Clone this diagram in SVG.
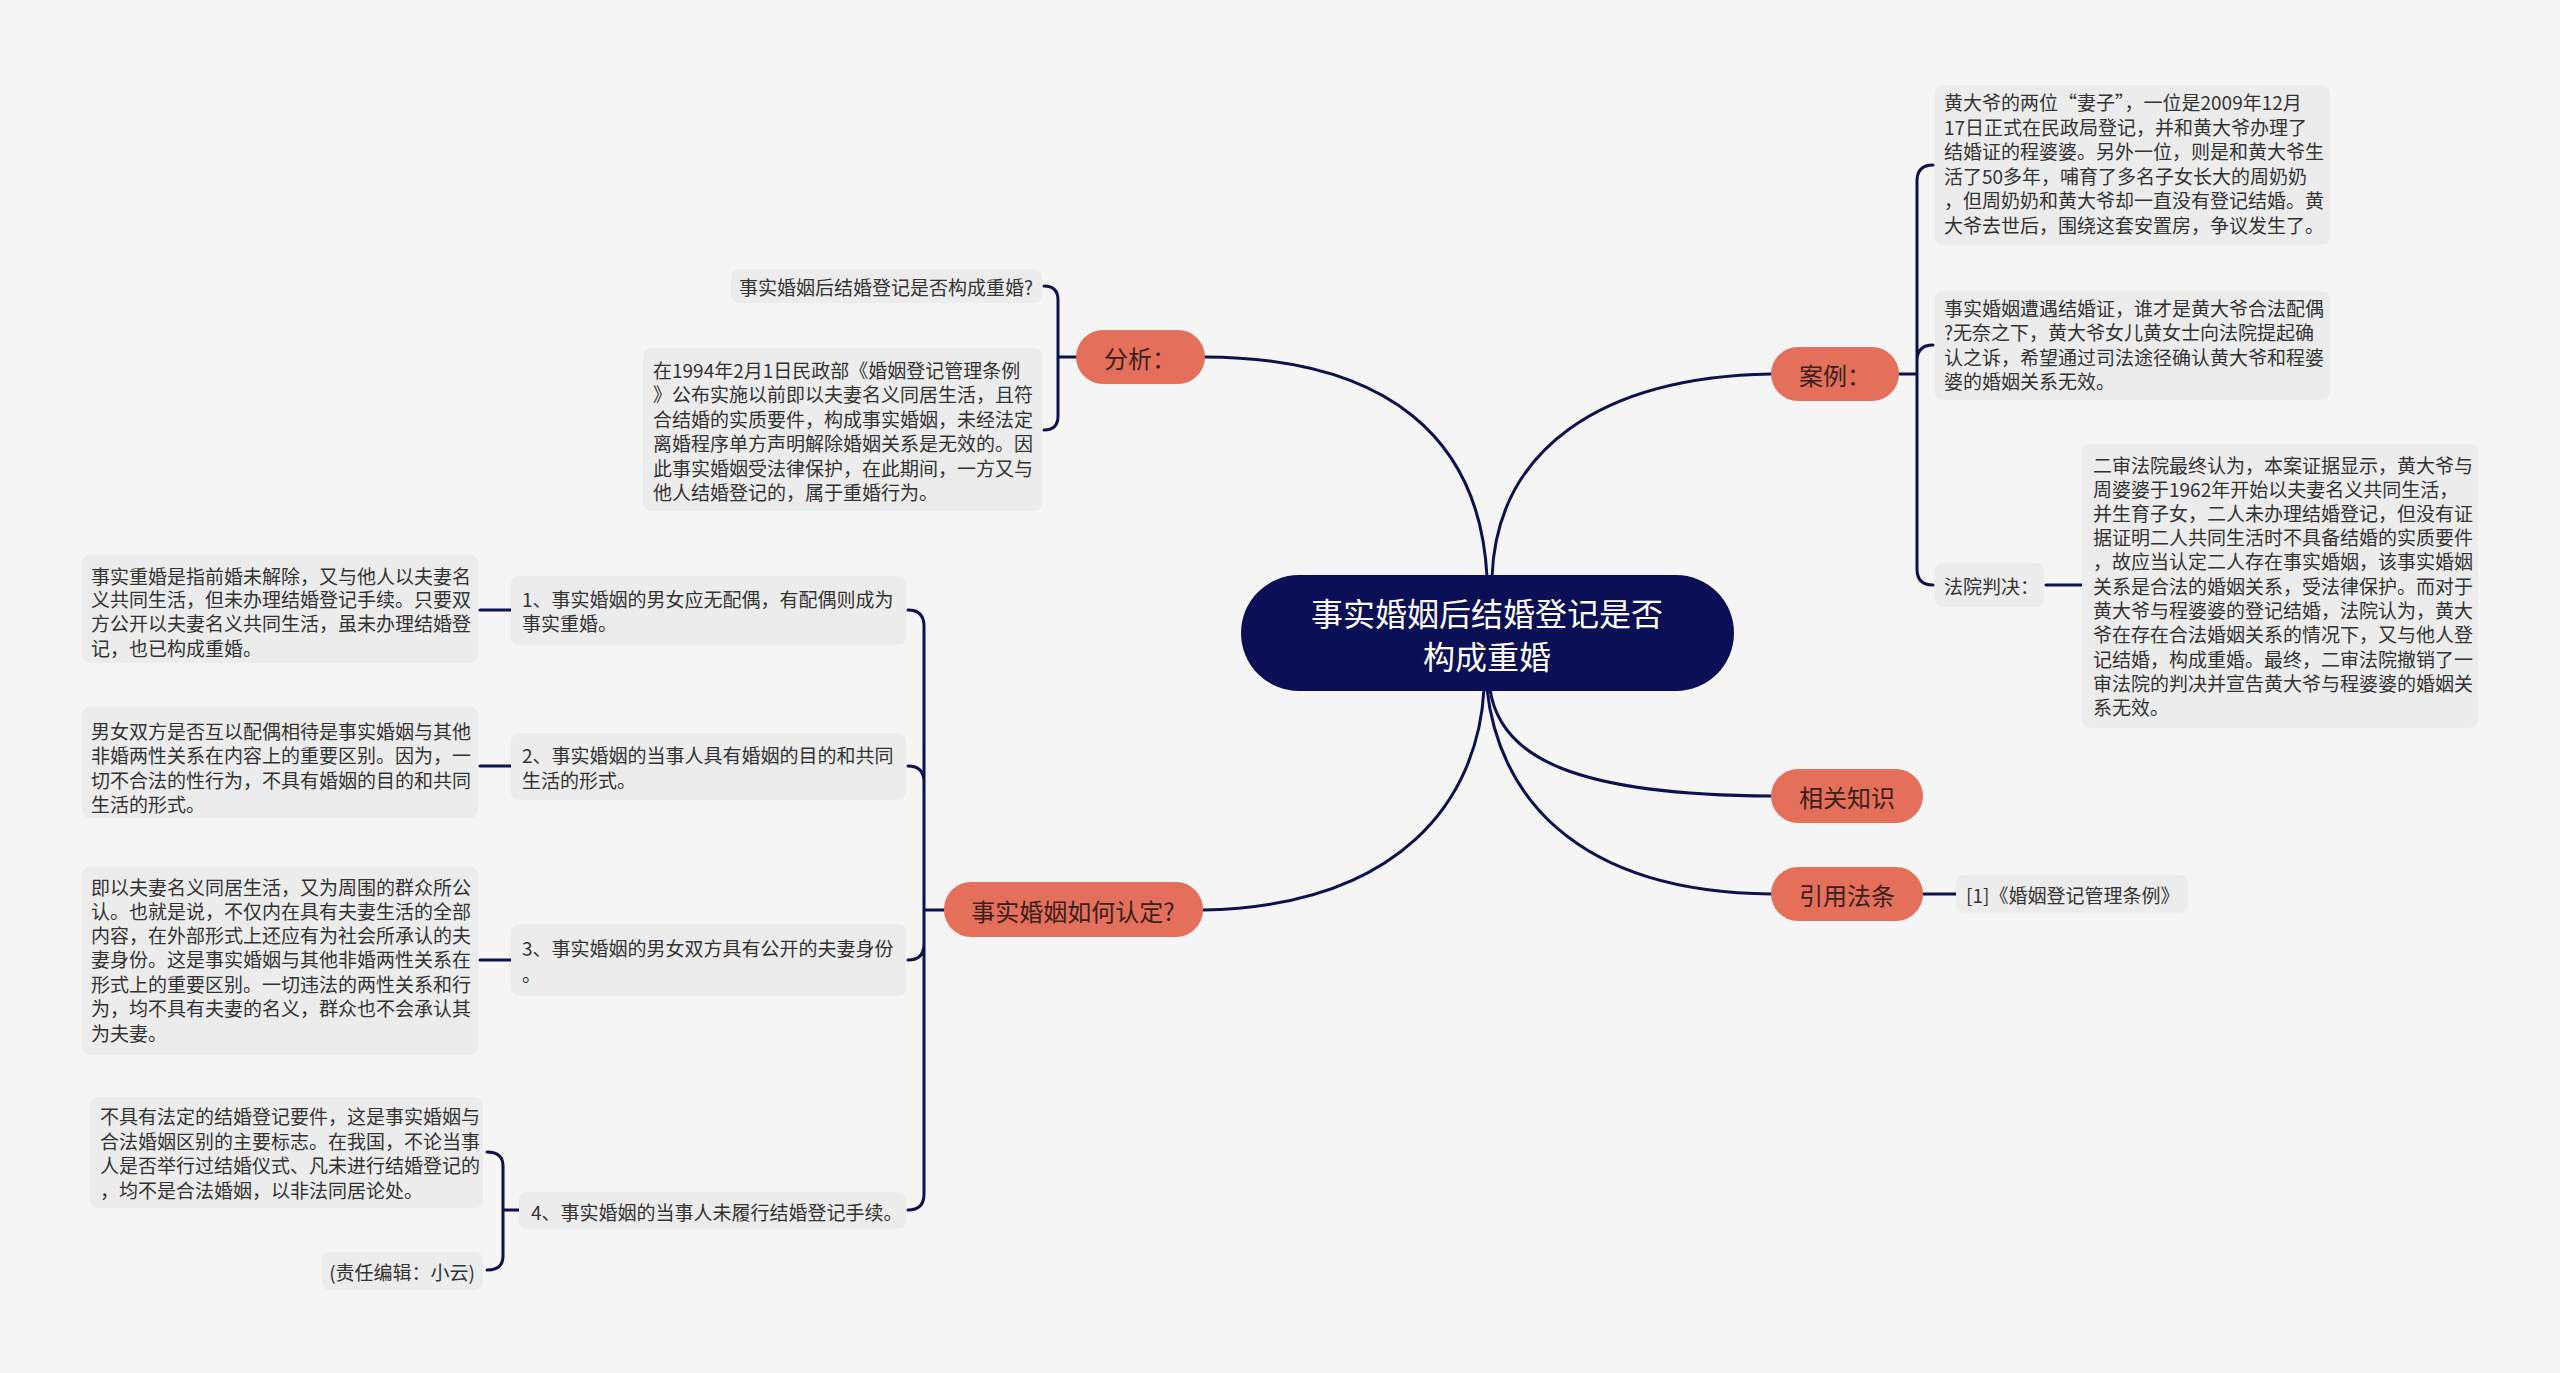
<svg xmlns="http://www.w3.org/2000/svg" width="2560" height="1373" viewBox="0 0 2560 1373">
<style>
.bg{fill:#f5f5f5}
.leaf{fill:#ececec}
.lt{font-family:"Noto Sans CJK SC","Noto Sans",sans-serif;font-size:19px;fill:#333333;dominant-baseline:central}
.main{fill:#e4705b}
.mt{font-family:"Noto Sans CJK SC","Noto Sans",sans-serif;font-size:24px;fill:#3a1f1a;dominant-baseline:central;text-anchor:middle}
.root{fill:#0b0f56}
.rt{font-family:"Noto Sans CJK SC","Noto Sans",sans-serif;font-size:32px;fill:#ffffff;dominant-baseline:central;text-anchor:middle}
.c{fill:none;stroke:#0d1150;stroke-width:3;stroke-linecap:round}
</style>
<rect class="bg" x="0" y="0" width="2560" height="1373"/>

<g id="connectors">
<path class="c" d="M1205 357 C1390 358 1480 440 1487 577"/>
<path class="c" d="M1771 374 C1600 377 1497 450 1492 577"/>
<path class="c" d="M1203 910 C1400 906 1478 800 1484 689"/>
<path class="c" d="M1771 796 C1580 795 1500 760 1490 689"/>
<path class="c" d="M1771 894 C1570 892 1498 790 1487 689"/>
<path class="c" d="M1076 357 H1058 M1058 357 V300 Q1058 286 1044 286 M1058 357 V416 Q1058 430 1044 430"/>
<path class="c" d="M1899 374 H1917 M1917 374 V181 Q1917 165 1933 165 M1917 374 V361 Q1917 345 1933 345 M1917 374 V569 Q1917 585 1933 585"/>
<path class="c" d="M2046 585 H2082"/>
<path class="c" d="M1923 894 H1956"/>
<path class="c" d="M944 910 H924 M924 910 V626 Q924 610 908 610 M924 910 V782 Q924 766 908 766 M924 910 V944 Q924 960 908 960 M924 910 V1194 Q924 1210 908 1210"/>
<path class="c" d="M511 610 H480 M511 766 H480 M511 960 H480"/>
<path class="c" d="M519 1210 H503 M503 1210 V1166 Q503 1152 487 1152 M503 1210 V1256 Q503 1270 487 1270"/>
</g>

<g id="root">
<rect class="root" x="1241" y="575" width="493" height="116" rx="58"/>
<text class="rt" x="1487" y="612">事实婚姻后结婚登记是否</text>
<text class="rt" x="1487" y="655">构成重婚</text>
</g>

<g id="fenxi">
<rect class="main" x="1076" y="330" width="129" height="54" rx="27"/>
<text class="mt" x="1140" y="357">分析：</text>
</g>
<g id="fenxi-q">
<rect class="leaf" x="731" y="269" width="311" height="34" rx="8"/>
<text class="lt" x="739" y="286">事实婚姻后结婚登记是否构成重婚?</text>
</g>
<g id="fenxi-text">
<rect class="leaf" x="643" y="348" width="399" height="163" rx="8"/>
<text class="lt" x="653" y="369">在1994年2月1日民政部《婚姻登记管理条例</text>
<text class="lt" x="653" y="393">》公布实施以前即以夫妻名义同居生活，且符</text>
<text class="lt" x="653" y="418">合结婚的实质要件，构成事实婚姻，未经法定</text>
<text class="lt" x="653" y="442">离婚程序单方声明解除婚姻关系是无效的。因</text>
<text class="lt" x="653" y="467">此事实婚姻受法律保护，在此期间，一方又与</text>
<text class="lt" x="653" y="491">他人结婚登记的，属于重婚行为。</text>
</g>

<g id="anli">
<rect class="main" x="1771" y="347" width="128" height="54" rx="27"/>
<text class="mt" x="1835" y="374">案例：</text>
</g>
<g id="anli-1">
<rect class="leaf" x="1935" y="85" width="395" height="160" rx="8"/>
<text class="lt" x="1944" y="101">黄大爷的两位“妻子”，一位是2009年12月</text>
<text class="lt" x="1944" y="126">17日正式在民政局登记，并和黄大爷办理了</text>
<text class="lt" x="1944" y="150">结婚证的程婆婆。另外一位，则是和黄大爷生</text>
<text class="lt" x="1944" y="175">活了50多年，哺育了多名子女长大的周奶奶</text>
<text class="lt" x="1944" y="199">，但周奶奶和黄大爷却一直没有登记结婚。黄</text>
<text class="lt" x="1944" y="224">大爷去世后，围绕这套安置房，争议发生了。</text>
</g>
<g id="anli-2">
<rect class="leaf" x="1935" y="291" width="395" height="109" rx="8"/>
<text class="lt" x="1944" y="307">事实婚姻遭遇结婚证，谁才是黄大爷合法配偶</text>
<text class="lt" x="1944" y="331">?无奈之下，黄大爷女儿黄女士向法院提起确</text>
<text class="lt" x="1944" y="356">认之诉，希望通过司法途径确认黄大爷和程婆</text>
<text class="lt" x="1944" y="380">婆的婚姻关系无效。</text>
</g>
<g id="fayuan">
<rect class="leaf" x="1935" y="563" width="109" height="44" rx="8"/>
<text class="lt" x="1944" y="585">法院判决：</text>
</g>
<g id="fayuan-text">
<rect class="leaf" x="2082" y="444" width="396" height="284" rx="8"/>
<text class="lt" x="2093" y="464">二审法院最终认为，本案证据显示，黄大爷与</text>
<text class="lt" x="2093" y="488">周婆婆于1962年开始以夫妻名义共同生活，</text>
<text class="lt" x="2093" y="512">并生育子女，二人未办理结婚登记，但没有证</text>
<text class="lt" x="2093" y="536">据证明二人共同生活时不具备结婚的实质要件</text>
<text class="lt" x="2093" y="560">，故应当认定二人存在事实婚姻，该事实婚姻</text>
<text class="lt" x="2093" y="585">关系是合法的婚姻关系，受法律保护。而对于</text>
<text class="lt" x="2093" y="609">黄大爷与程婆婆的登记结婚，法院认为，黄大</text>
<text class="lt" x="2093" y="633">爷在存在合法婚姻关系的情况下，又与他人登</text>
<text class="lt" x="2093" y="658">记结婚，构成重婚。最终，二审法院撤销了一</text>
<text class="lt" x="2093" y="682">审法院的判决并宣告黄大爷与程婆婆的婚姻关</text>
<text class="lt" x="2093" y="706">系无效。</text>
</g>

<g id="xiangguan">
<rect class="main" x="1771" y="769" width="152" height="54" rx="27"/>
<text class="mt" x="1847" y="796">相关知识</text>
</g>

<g id="yinyong">
<rect class="main" x="1771" y="867" width="152" height="54" rx="27"/>
<text class="mt" x="1847" y="894">引用法条</text>
</g>
<g id="yinyong-1">
<rect class="leaf" x="1956" y="875" width="232" height="38" rx="8"/>
<text class="lt" x="1966" y="894">[1]《婚姻登记管理条例》</text>
</g>

<g id="rending">
<rect class="main" x="944" y="882" width="259" height="55" rx="27"/>
<text class="mt" x="1073" y="910">事实婚姻如何认定?</text>
</g>
<g id="rending-1">
<rect class="leaf" x="511" y="576" width="395" height="69" rx="8"/>
<text class="lt" x="522" y="598">1、事实婚姻的男女应无配偶，有配偶则成为</text>
<text class="lt" x="522" y="622">事实重婚。</text>
</g>
<g id="rending-2">
<rect class="leaf" x="511" y="733" width="395" height="67" rx="8"/>
<text class="lt" x="522" y="754">2、事实婚姻的当事人具有婚姻的目的和共同</text>
<text class="lt" x="522" y="779">生活的形式。</text>
</g>
<g id="rending-3">
<rect class="leaf" x="511" y="924" width="395" height="72" rx="8"/>
<text class="lt" x="522" y="947">3、事实婚姻的男女双方具有公开的夫妻身份</text>
<text class="lt" x="522" y="973">。</text>
</g>
<g id="rending-4">
<rect class="leaf" x="519" y="1192" width="387" height="37" rx="8"/>
<text class="lt" x="531" y="1211">4、事实婚姻的当事人未履行结婚登记手续。</text>
</g>

<g id="detail-1">
<rect class="leaf" x="82" y="555" width="396" height="108" rx="8"/>
<text class="lt" x="91" y="575">事实重婚是指前婚未解除，又与他人以夫妻名</text>
<text class="lt" x="91" y="598">义共同生活，但未办理结婚登记手续。只要双</text>
<text class="lt" x="91" y="622">方公开以夫妻名义共同生活，虽未办理结婚登</text>
<text class="lt" x="91" y="647">记，也已构成重婚。</text>
</g>
<g id="detail-2">
<rect class="leaf" x="82" y="707" width="396" height="111" rx="8"/>
<text class="lt" x="91" y="730">男女双方是否互以配偶相待是事实婚姻与其他</text>
<text class="lt" x="91" y="754">非婚两性关系在内容上的重要区别。因为，一</text>
<text class="lt" x="91" y="779">切不合法的性行为，不具有婚姻的目的和共同</text>
<text class="lt" x="91" y="803">生活的形式。</text>
</g>
<g id="detail-3">
<rect class="leaf" x="82" y="867" width="396" height="188" rx="8"/>
<text class="lt" x="91" y="886">即以夫妻名义同居生活，又为周围的群众所公</text>
<text class="lt" x="91" y="910">认。也就是说，不仅内在具有夫妻生活的全部</text>
<text class="lt" x="91" y="934">内容，在外部形式上还应有为社会所承认的夫</text>
<text class="lt" x="91" y="958">妻身份。这是事实婚姻与其他非婚两性关系在</text>
<text class="lt" x="91" y="983">形式上的重要区别。一切违法的两性关系和行</text>
<text class="lt" x="91" y="1007">为，均不具有夫妻的名义，群众也不会承认其</text>
<text class="lt" x="91" y="1032">为夫妻。</text>
</g>
<g id="detail-4a">
<rect class="leaf" x="90" y="1097" width="393" height="111" rx="8"/>
<text class="lt" x="100" y="1115">不具有法定的结婚登记要件，这是事实婚姻与</text>
<text class="lt" x="100" y="1140">合法婚姻区别的主要标志。在我国，不论当事</text>
<text class="lt" x="100" y="1164">人是否举行过结婚仪式、凡未进行结婚登记的</text>
<text class="lt" x="100" y="1189">，均不是合法婚姻，以非法同居论处。</text>
</g>
<g id="detail-4b">
<rect class="leaf" x="322" y="1252" width="161" height="38" rx="8"/>
<text class="lt" x="475" y="1271" text-anchor="end">(责任编辑：小云)</text>
</g>
</svg>
